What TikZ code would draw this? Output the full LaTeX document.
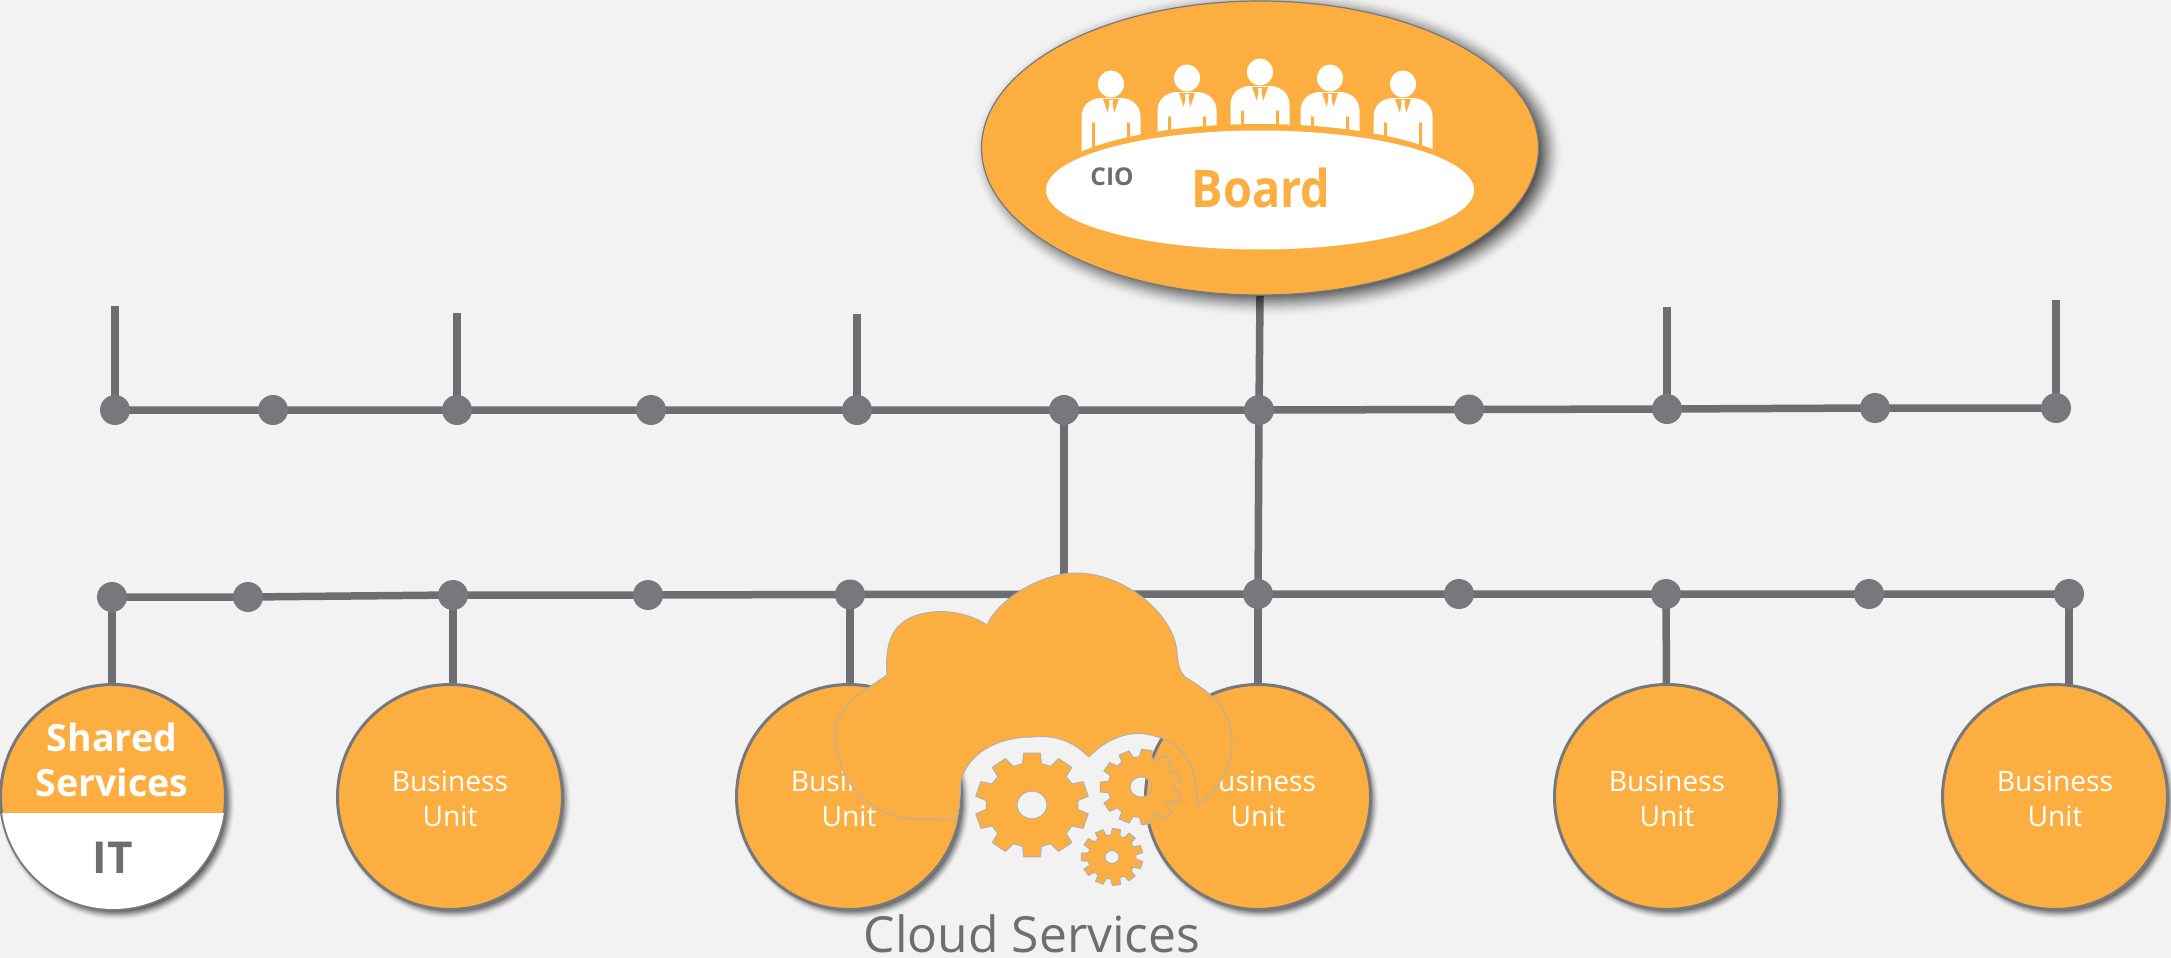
\documentclass[tikz,border=0pt]{standalone}
\usepackage{fontspec}
\setmainfont{Open Sans}
\usetikzlibrary{shapes.geometric}
\definecolor{bgc}{HTML}{F2F2F2}
\definecolor{org}{HTML}{FCAF40}
\definecolor{lin}{HTML}{6D6E71}
\definecolor{dotc}{HTML}{77787B}
\definecolor{halo}{HTML}{B4B0A8}
\pgfdeclarelayer{lines}
\pgfsetlayers{lines,main}
\tikzset{
  dotn/.style={circle,fill=dotc,minimum size=30pt,inner sep=0pt},
  bar/.style={draw=lin,line width=7.5pt},
  unit/.style={circle,draw=dotc,line width=3pt,fill=org,minimum size=225pt,inner sep=0pt,text=white,align=center,font=\fontsize{28.2}{35}\selectfont},
  gearst/.style={fill=org,draw=halo,line width=1pt,even odd rule},
}
\newcommand{\bulabel}{\rule{0pt}{25pt}Business\\Unit}
% soft shadow: x y rx ry strength spread
\newcommand{\softshadow}[6]{%
  \foreach \k in {1,...,24}{
    \pgfmathsetmacro{\op}{#5*\k/24}
    \fill[black,opacity=\op] ({#1},{#2}) ellipse [x radius={#3+#6-2*#6*\k/24},y radius={#4+#6-2*#6*\k/24}];
  }}
\newcommand{\gearshape}[6]{% x y ro ri hole teeth
  \pgfmathsetmacro{\st}{360/#6}
  \pgfmathsetmacro{\wa}{\st*0.33}
  \pgfmathsetmacro{\wb}{\st*0.23}
  \fill[gearst,draw=none,shift={(#1,#2)},yscale=0.92] (0:#4)
    \foreach \i in {1,...,#6}{
      -- ({\i*\st-\st/2-\wa}:#4) -- ({\i*\st-\st/2-\wb}:#3) -- ({\i*\st-\st/2+\wb}:#3) -- ({\i*\st-\st/2+\wa}:#4)
    } -- cycle
    (0,0) circle [radius=#5];
  \draw[gearst,fill=none,shift={(#1,#2)},yscale=0.92] (0:#4)
    \foreach \i in {1,...,#6}{
      -- ({\i*\st-\st/2-\wa}:#4) -- ({\i*\st-\st/2-\wb}:#3) -- ({\i*\st-\st/2+\wb}:#3) -- ({\i*\st-\st/2+\wa}:#4)
    } -- cycle
    (0,0) circle [radius=#5];
}
% a seated person: x, head y, body bottom y
\newcommand{\person}[3]{%
  \fill[white] (#1,#2) ellipse [x radius=13,y radius=13.5];
  \fill[white] ({#1-29.5},#3) -- ({#1-29.5},{#2+33}) .. controls ({#1-29.5},{#2+22}) and ({#1-22},{#2+15}) .. ({#1-11},{#2+14}) -- ({#1+11},{#2+14}) .. controls ({#1+22},{#2+15}) and ({#1+29.5},{#2+22}) .. ({#1+29.5},{#2+33}) -- ({#1+29.5},#3) -- cycle;
  \fill[org] ({#1-19},#3) -- ({#1-19},{#2+38}) arc [start angle=180,end angle=0,radius=1.5] -- ({#1-16},#3) -- cycle;
  \fill[org] ({#1+16},#3) -- ({#1+16},{#2+38}) arc [start angle=180,end angle=0,radius=1.5] -- ({#1+19},#3) -- cycle;
  \fill[org] ({#1-8},{#2+15}) -- ({#1+8},{#2+15}) -- (#1,{#2+38}) -- cycle;
  \fill[white] ({#1-2},{#2+16}) -- ({#1+2},{#2+16}) -- ({#1+1.5},{#2+20}) -- ({#1+3.5},{#2+31}) -- (#1,{#2+38}) -- ({#1-3.5},{#2+31}) -- ({#1-1.5},{#2+20}) -- cycle;
}
\begin{document}
\begin{tikzpicture}[x=1pt,y=-1pt]
\useasboundingbox (0,0) rectangle (2171,958);
\begin{pgfonlayer}{lines}
  \fill[bgc] (0,0) rectangle (2171,958);
\end{pgfonlayer}

% upper bus
\node[dotn] (u1) at (115,410) {};
\node[dotn] (u2) at (273,410) {};
\node[dotn] (u3) at (457,410) {};
\node[dotn] (u4) at (651,410) {};
\node[dotn] (u5) at (857,410) {};
\node[dotn] (u6) at (1064,410) {};
\node[dotn] (u7) at (1259,410) {};
\node[dotn] (u8) at (1469,409.5) {};
\node[dotn] (u9) at (1667,409) {};
\node[dotn] (u10) at (1875,408) {};
\node[dotn] (u11) at (2056,408) {};
% lower bus
\node[dotn] (l1) at (112,597) {};
\node[dotn] (l2) at (248,597) {};
\node[dotn] (l3) at (453,595) {};
\node[dotn] (l4) at (648,595) {};
\node[dotn] (l5) at (850,594.5) {};
\node[dotn] (l6) at (1258,594) {};
\node[dotn] (l7) at (1459,594) {};
\node[dotn] (l8) at (1666,594) {};
\node[dotn] (l9) at (1869,594) {};
\node[dotn] (l10) at (2069,594) {};
% free stub ends
\coordinate (t1) at (115,306);
\coordinate (t3) at (457,313);
\coordinate (t5) at (857,314);
\coordinate (t9) at (1667,307);
\coordinate (t11) at (2056,300);
\coordinate (cloudjoin) at (1064,640);

% shadows
\softshadow{1268}{153}{278}{147}{0.16}{18}
\softshadow{117}{802}{113}{113}{0.09}{6}
\softshadow{454}{802}{112}{112}{0.09}{6}
\softshadow{853}{802}{112}{112}{0.09}{6}
\softshadow{1262}{802}{112}{112}{0.09}{6}
\softshadow{1671}{802}{112}{112}{0.09}{6}
\softshadow{2059}{802}{112}{112}{0.09}{6}

% board
\node[ellipse,draw=dotc,line width=1.2pt,fill=org,minimum width=557pt,minimum height=294pt,inner sep=0pt] (board) at (1260,148) {};
\person{1111}{84}{160}
\person{1187}{78}{140}
\person{1260}{72}{135}
\person{1330}{78}{140}
\person{1403}{84}{160}
\fill[org] (1260,190) ellipse [x radius=220,y radius=66];
\node[ellipse,fill=white,minimum width=428pt,minimum height=119pt,inner sep=0pt] (table) at (1260,190) {};
\node[text=org,font=\fontsize{52}{56}\selectfont\bfseries,inner sep=0pt,anchor=base,xscale=0.9,transform shape] (boardt) at (1261,207) {Board};
\node[text=lin,font=\fontsize{24.5}{28}\selectfont\bfseries,inner sep=0pt,anchor=base] (cio) at (1112,185) {CIO};

% units
\node[unit] (ss) at (113,797) {};
\begin{scope}
  \clip (113,797) circle [radius=112];
  \fill[white] (0,813) rectangle (230,920);
\end{scope}
\node[text=white,font=\fontsize{37.5}{45}\selectfont\bfseries,align=center,inner sep=0pt] (sst) at (112,760) {Shared\\Services};
\node[text=lin,font=\fontsize{44}{48}\selectfont\bfseries,inner sep=0pt,anchor=base] (it) at (113,873) {IT};
\node[unit] (bu1) at (450,797) {\bulabel};
\node[unit] (bu2) at (849,797) {\bulabel};
\node[unit] (bu3) at (1258,797) {\bulabel};
\node[unit] (bu4) at (1667,797) {\bulabel};
\node[unit] (bu5) at (2055,797) {\bulabel};

% cloud
\fill[org,draw=halo,line width=1pt] (987,625)
  .. controls (998,600) and (1040,573) .. (1076,573)
  .. controls (1125,573) and (1175,615) .. (1177,653)
  .. controls (1178,665) and (1180,672) .. (1185,677)
  .. controls (1195,683) and (1202,688) .. (1208,693)
  .. controls (1224,705) and (1232,722) .. (1232,742)
  .. controls (1232,770) and (1218,790) .. (1197,805)
  .. controls (1198,780) and (1190,745) .. (1158,737)
  .. controls (1130,727) and (1105,740) .. (1089,757)
  .. controls (1070,738) and (1050,735) .. (1032,737)
  .. controls (995,737) and (968,755) .. (961,780)
  .. controls (960,795) and (960,810) .. (956,820)
  -- (911,819)
  .. controls (880,817) and (855,795) .. (844,773)
  .. controls (832,745) and (832,722) .. (846,707)
  .. controls (855,695) and (870,687) .. (887,675)
  .. controls (885,650) and (890,632) .. (902,623)
  .. controls (920,608) and (960,607) .. (987,625) -- cycle;

% gears
\gearshape{1032}{805}{57}{46}{15}{10}
\gearshape{1141}{787}{41}{33}{11}{11}
\gearshape{1112}{857}{31}{24}{7}{11}

\node[text=lin,font=\fontsize{49.8}{52}\selectfont,inner sep=0pt,anchor=base] (cs) at (1032,952) {Cloud Services};

\begin{pgfonlayer}{lines}
  \draw[bar] (u1.center)--(u2.center)--(u3.center)--(u4.center)--(u5.center)--(u6.center)--(u7.center)--(u8.center)--(u9.center)--(u10.center)--(u11.center);
  \draw[bar] (l1.center)--(l2.center)--(l3.center)--(l4.center)--(l5.center)--(l6.center)--(l7.center)--(l8.center)--(l9.center)--(l10.center);
  \draw[bar] (t1)--(u1.center);
  \draw[bar] (t3)--(u3.center);
  \draw[bar] (t5)--(u5.center);
  \draw[bar] (t9)--(u9.center);
  \draw[bar] (t11)--(u11.center);
  \draw[bar] (board.south)--(u7.center)--(l6.center);
  \draw[bar] (u6.center)--(cloudjoin);
  \draw[bar] (l1.center)--(l1 |- ss.center);
  \draw[bar] (l3.center)--(l3 |- bu1.center);
  \draw[bar] (l5.center)--(l5 |- bu2.center);
  \draw[bar] (l6.center)--(bu3.center);
  \draw[bar] (l8.center)--(bu4.center);
  \draw[bar] (l10.center)--(l10 |- bu5.center);
\end{pgfonlayer}
\end{tikzpicture}
\end{document}
